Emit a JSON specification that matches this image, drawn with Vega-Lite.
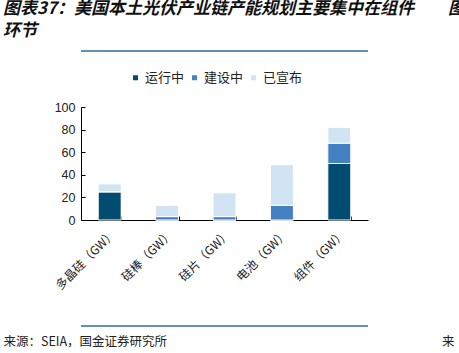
{
  "$schema": "https://vega.github.io/schema/vega-lite/v6.json",
  "padding": {"left": 3, "top": 0, "right": 0, "bottom": 0},
  "background": "white",
  "width": 287,
  "height": 113,
  "title": {
    "text": ["图表37：美国本土光伏产业链产能规划主要集中在组件　　图", "环节"],
    "anchor": "start",
    "frame": "bounds",
    "font": "Noto Sans CJK SC",
    "fontSize": 17,
    "fontStyle": "italic",
    "fontWeight": "bold",
    "lineHeight": 22,
    "color": "#111",
    "offset": 10
  },
  "resolve": {"scale": {"x": "independent"}, "axis": {"x": "independent", "y": "independent"}},
  "layer": [
    {
      "data": {
        "values": [
          {"category": "多晶硅（GW）", "status": "运行中", "o": 1, "value": 25},
          {"category": "多晶硅（GW）", "status": "建设中", "o": 2, "value": 0},
          {"category": "多晶硅（GW）", "status": "已宣布", "o": 3, "value": 7},
          {"category": "硅棒（GW）", "status": "运行中", "o": 1, "value": 0},
          {"category": "硅棒（GW）", "status": "建设中", "o": 2, "value": 3},
          {"category": "硅棒（GW）", "status": "已宣布", "o": 3, "value": 10},
          {"category": "硅片（GW）", "status": "运行中", "o": 1, "value": 0},
          {"category": "硅片（GW）", "status": "建设中", "o": 2, "value": 3},
          {"category": "硅片（GW）", "status": "已宣布", "o": 3, "value": 21},
          {"category": "电池（GW）", "status": "运行中", "o": 1, "value": 0},
          {"category": "电池（GW）", "status": "建设中", "o": 2, "value": 13},
          {"category": "电池（GW）", "status": "已宣布", "o": 3, "value": 36},
          {"category": "组件（GW）", "status": "运行中", "o": 1, "value": 50},
          {"category": "组件（GW）", "status": "建设中", "o": 2, "value": 18},
          {"category": "组件（GW）", "status": "已宣布", "o": 3, "value": 14}
        ]
      },
      "mark": {"type": "bar", "stroke": "white", "strokeWidth": 1},
      "encoding": {
        "x": {
          "field": "category",
          "type": "nominal",
          "sort": null,
          "scale": {"paddingInner": 0.6, "paddingOuter": 0.3},
          "axis": {
            "title": "来源：SEIA，国金证券研究所　　　　　　　　　　　　　　　　　　　　　　来",
            "titleX": -78,
            "titleY": 121,
            "titleAlign": "left",
            "titleAnchor": "start",
            "titleBaseline": "middle",
            "titleFont": "Noto Sans CJK SC",
            "titleFontSize": 12.5,
            "titleFontWeight": "normal",
            "titleColor": "#222",
            "labelAngle": -45,
            "tickBand": "extent",
            "tickSize": -4,
            "domainColor": "#000",
            "tickColor": "#000",
            "labelFont": "Noto Sans CJK SC",
            "labelFontSize": 12,
            "labelColor": "#222",
            "labelPadding": 12
          }
        },
        "y": {
          "field": "value",
          "type": "quantitative",
          "stack": "zero",
          "scale": {"domain": [0, 100]},
          "axis": {
            "title": null,
            "values": [0, 20, 40, 60, 80, 100],
            "labelOverlap": false,
            "grid": false,
            "domain": true,
            "tickSize": -4,
            "domainColor": "#000",
            "tickColor": "#000",
            "labelFont": "Liberation Sans",
            "labelFontSize": 12.5,
            "labelColor": "#222",
            "labelPadding": 10
          }
        },
        "color": {
          "field": "status",
          "type": "nominal",
          "scale": {"domain": ["运行中", "建设中", "已宣布"], "range": ["#024B71", "#4381C2", "#D2E4F3"]},
          "legend": {
            "orient": "none",
            "direction": "horizontal",
            "legendX": 48,
            "legendY": -36,
            "padding": 0,
            "title": null,
            "symbolType": "square",
            "symbolSize": 25,
            "symbolStrokeWidth": 0,
            "labelFont": "Noto Sans CJK SC",
            "labelFontSize": 13,
            "labelColor": "#222",
            "labelOffset": 3,
            "columnPadding": 3
          }
        },
        "order": {"field": "o", "type": "quantitative"}
      }
    },
    {
      "data": {"values": [{"line": "top"}]},
      "mark": {"type": "rule", "color": "#2C6C9C", "strokeWidth": 1.5},
      "encoding": {
        "x": {"datum": 0, "type": "quantitative", "scale": {"domain": [0, 1]}, "axis": null},
        "x2": {"datum": 1},
        "y": {"datum": 149.6, "type": "quantitative", "axis": null}
      }
    },
    {
      "data": {"values": [{"line": "bottom"}]},
      "mark": {"type": "rule", "color": "#2C6C9C", "strokeWidth": 1.5},
      "encoding": {
        "y": {"datum": -93.8, "type": "quantitative", "axis": null}
      }
    }
  ],
  "config": {"view": {"stroke": null}}
}
